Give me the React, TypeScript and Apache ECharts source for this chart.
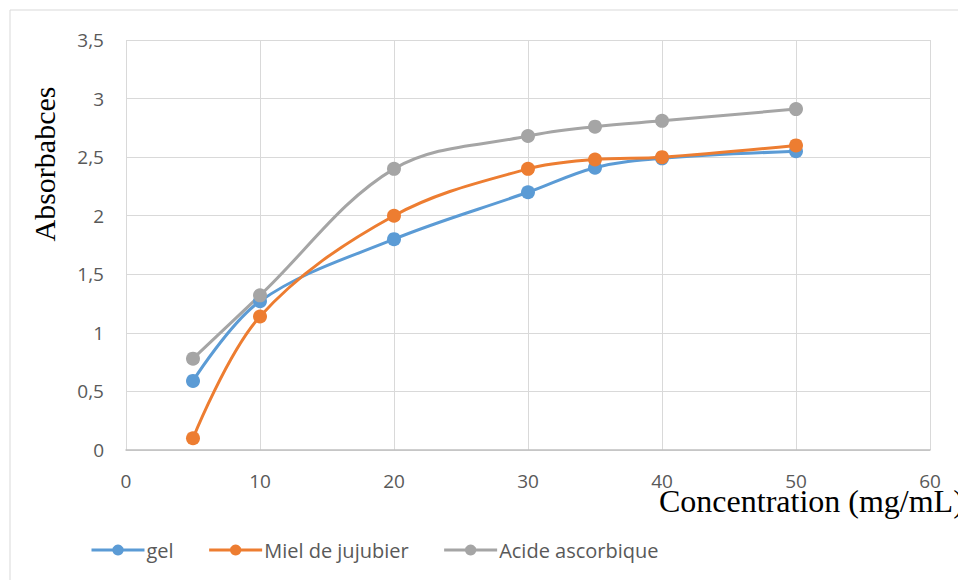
import React, { useEffect, useRef } from "react";
import * as echarts from "echarts";

const concentrations = [5, 10, 20, 30, 35, 40, 50];
const gel = [0.59, 1.27, 1.8, 2.2, 2.41, 2.49, 2.55];
const miel = [0.1, 1.14, 2.0, 2.4, 2.48, 2.5, 2.6];
const acide = [0.78, 1.32, 2.4, 2.68, 2.76, 2.81, 2.91];
const seriesNames = ["gel", "Miel de jujubier", "Acide ascorbique"];
const colors = ["#5B9BD5", "#ED7D31", "#A5A5A5"];

export default function App() {
  const ref = useRef<HTMLDivElement>(null);
  useEffect(() => {
    document.body.style.margin = "0";
    const chart = echarts.init(ref.current!, null, { renderer: "svg" });
    const mk = (name: string, vals: number[], color: string) => ({
      name,
      type: "line",
      smooth: 0.35,
      data: concentrations.map((c, i) => [c, vals[i]]),
      symbol: "circle",
      symbolSize: 14,
      lineStyle: { width: 3, color },
      itemStyle: { color },
    });
    chart.setOption({
      animation: false,
      backgroundColor: "#fff",
      grid: { left: 126, top: 40, right: 28, bottom: 130, containLabel: false },
      xAxis: {
        type: "value",
        min: 0,
        max: 60,
        interval: 10,
        axisLine: { show: true, lineStyle: { color: "#bfbfbf", width: 1.5 } },
        axisTick: { show: false },
        splitLine: { show: true, lineStyle: { color: "#d9d9d9", width: 1 } },
        axisLabel: { color: "#595959", fontSize: 19, fontFamily: "Open Sans", margin: 21 },
      },
      yAxis: {
        type: "value",
        min: 0,
        max: 3.5,
        interval: 0.5,
        axisLine: { show: false },
        axisTick: { show: false },
        splitLine: { show: true, lineStyle: { color: "#d9d9d9", width: 1 } },
        axisLabel: {
          color: "#595959",
          fontSize: 19,
          fontFamily: "Open Sans",
          margin: 22,
          formatter: (v: number) => String(v).replace(".", ","),
        },
      },
      legend: {
        data: seriesNames,
        left: 90,
        top: 540,
        padding: 0,
        itemWidth: 53,
        itemHeight: 14,
        itemGap: 34,
        lineStyle: { width: 3 },
        textStyle: { color: "#595959", fontSize: 20, fontFamily: "Open Sans", padding: [0, 0, 0, -3] },
      },
      graphic: [
        {
          type: "rect",
          shape: { x: 10, y: 10, width: 1000, height: 700 },
          style: { fill: "none", stroke: "#d9d9d9", lineWidth: 1 },
          z: -1,
        },
        {
          type: "text",
          x: 44,
          y: 164,
          rotation: Math.PI / 2,
          style: {
            text: "Absorbabces",
            font: "30px 'Liberation Serif', 'Times New Roman', serif",
            fill: "#000",
            align: "center",
            verticalAlign: "middle",
          },
        },
        {
          type: "text",
          x: 659,
          y: 501,
          style: {
            text: "Concentration (mg/mL)",
            font: "32px 'Liberation Serif', 'Times New Roman', serif",
            fill: "#000",
            align: "left",
            verticalAlign: "middle",
          },
        },
      ],
      series: [
        mk(seriesNames[0], gel, colors[0]),
        mk(seriesNames[1], miel, colors[1]),
        mk(seriesNames[2], acide, colors[2]),
      ],
    });
    return () => chart.dispose();
  }, []);
  return <div ref={ref} style={{ width: 958, height: 580 }} />;
}
